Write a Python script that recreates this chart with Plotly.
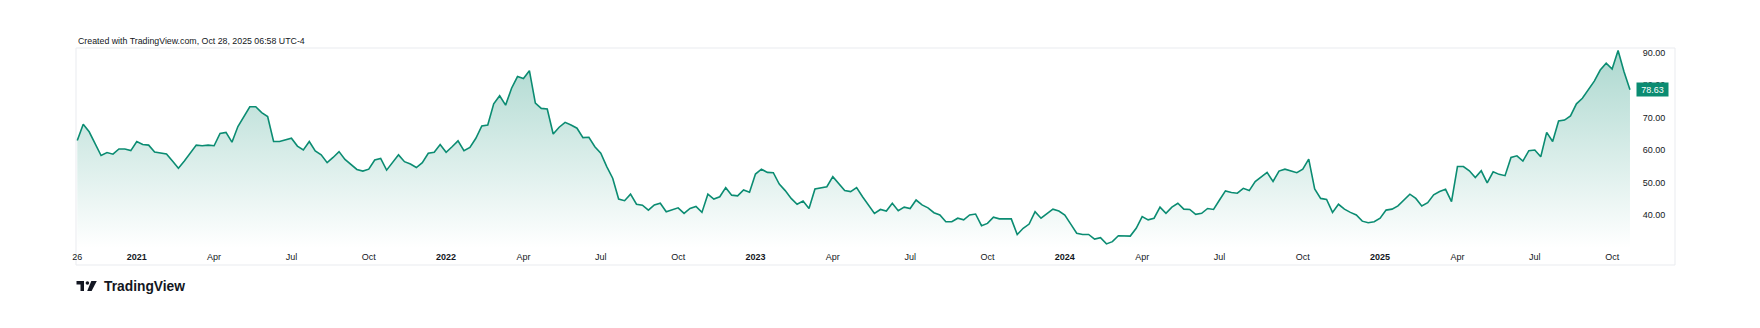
import plotly.graph_objects as go
import pandas as pd

# ---------------- data (weekly closes) ----------------
start_date = "2020-10-26"

values_a = [63.0, 68.0, 65.7, 61.9, 58.4, 59.3, 58.8, 60.4, 60.4, 59.9,
            62.7, 61.8, 61.6, 59.5, 59.3, 58.9, 56.7, 54.5, 56.7, 59.1,
            61.6, 61.4, 61.6, 61.4, 65.2, 65.5, 62.5, 67.3, 70.4, 73.4,
            73.4, 71.6, 70.4, 62.7, 62.7, 63.2, 63.7, 61.3, 60.1, 62.7,
            59.8, 58.6, 56.2, 57.8, 59.6, 57.2, 55.5, 54.1, 53.6, 54.2,
            57.0, 57.5, 53.9, 56.2, 58.6, 56.5, 55.8, 54.7, 56.2, 59.1,
            59.4, 61.8, 59.4, 61.1, 62.9, 59.9, 60.9, 63.7, 67.5, 67.8,
            74.3, 76.8, 73.9, 79.1, 82.7, 82.1, 84.5, 74.5, 72.9, 72.7,
            65.0, 67.1]

values_b = [68.6, 67.8, 66.8, 63.9, 64.0, 61.1, 59.1, 55.0, 51.4, 45.0,
            44.5, 46.5, 43.4, 43.1, 41.6, 43.2, 43.7, 41.1, 41.8, 42.3,
            40.6, 42.1, 42.7, 40.9, 46.5, 45.0, 45.7, 48.5, 46.2, 46.0,
            47.8, 47.1, 52.7, 54.2, 53.2, 53.1, 49.6, 47.6, 45.2, 43.4,
            44.4, 42.1, 48.1, 48.5, 48.8, 51.9, 49.6, 47.6, 47.3, 48.5,
            45.7, 43.2, 40.6, 41.8, 41.3, 43.7, 41.4, 42.5, 42.1, 44.7,
            43.2, 42.3, 40.8, 40.1, 38.0, 38.0, 39.1, 38.6, 40.1, 40.4,
            36.8, 37.5]

values_c = [39.4, 38.9, 38.9, 38.9, 34.1, 36.0, 37.3, 41.1, 39.1, 40.6,
            41.9, 41.3, 40.1, 37.3, 34.5, 34.1, 34.1, 32.7, 33.1, 31.2,
            31.9, 33.7, 33.7, 33.6, 36.0, 39.6, 38.6, 39.1, 42.5, 40.6,
            42.5, 43.7, 41.9, 41.8, 40.3, 40.6, 42.1, 41.8, 44.7, 47.5,
            47.0, 46.8, 48.3, 47.6, 50.4, 51.9, 53.2, 50.4, 53.6, 54.2,
            53.6, 53.1, 54.2, 57.3, 48.1, 45.2]

values_d = [44.9, 40.9, 43.4, 41.9, 40.9, 40.1, 38.2, 37.7, 38.0, 39.1,
            41.6, 41.9, 42.9, 44.7, 46.5, 45.2, 42.9, 43.9, 46.3, 47.3,
            48.0, 44.2, 55.0, 55.0, 53.7, 51.6, 53.7, 50.0, 53.4, 52.6,
            52.2, 57.8, 58.3, 56.7, 59.9, 60.1, 58.0, 65.5, 62.7, 69.0,
            69.3, 70.6, 74.3, 76.0, 78.8, 81.3, 84.7, 86.8, 85.0, 90.7,
            84.2, 78.63]

values = values_a + values_b + values_c + values_d
dates = pd.date_range(start_date, periods=len(values), freq="7D")
last_value = values[-1]

x_tick_dates = ["2020-10-26", "2021-01-04", "2021-04-05", "2021-07-05", "2021-10-04",
                "2022-01-03", "2022-04-04", "2022-07-04", "2022-10-03",
                "2023-01-02", "2023-04-03", "2023-07-03", "2023-10-02",
                "2024-01-01", "2024-04-01", "2024-07-01", "2024-10-07",
                "2025-01-06", "2025-04-07", "2025-07-07", "2025-10-06"]
x_tick_labels = ["26", "<b>2021</b>", "Apr", "Jul", "Oct",
                 "<b>2022</b>", "Apr", "Jul", "Oct",
                 "<b>2023</b>", "Apr", "Jul", "Oct",
                 "<b>2024</b>", "Apr", "Jul", "Oct",
                 "<b>2025</b>", "Apr", "Jul", "Oct"]
y_tick_values = [40, 50, 60, 70, 80, 90]
y_tick_labels = ["40.00", "50.00", "60.00", "70.00", "80.00", "90.00"]

title_text = "Created with TradingView.com, Oct 28, 2025 06:58 UTC-4"
brand_text = "TradingView"

# ---------------- layout geometry ----------------
W, H = 1760, 328
PL, PR, PT, PB = 76, 1632, 48, 248

def px(x):
    return (x - PL) / (PR - PL)

def py(y):
    return (PB - y) / (PB - PT)

LINE = "#0b8c72"
TXT = "#131722"
FONT = "Liberation Sans, Arial, sans-serif"

fig = go.Figure()
fig.add_trace(go.Scatter(
    x=dates, y=values, mode="lines",
    line=dict(color=LINE, width=1.6),
    fill="tozeroy",
    fillgradient=dict(type="vertical", start=30, stop=91,
                      colorscale=[[0, "rgba(11,140,114,0.0)"],
                                  [1, "rgba(11,140,114,0.34)"]]),
    hoverinfo="skip", showlegend=False,
))

fig.update_layout(
    width=W, height=H,
    margin=dict(l=PL, r=W - PR, t=PT, b=H - PB, pad=0),
    paper_bgcolor="white", plot_bgcolor="white",
    font=dict(family=FONT, size=9, color=TXT),
    xaxis=dict(
        type="date",
        range=["2020-10-24 12:00", "2025-10-29 09:00"],
        tickmode="array", tickvals=x_tick_dates, ticktext=x_tick_labels,
        showgrid=False, zeroline=False, showline=False,
        ticks="outside", ticklen=0, tickcolor="rgba(0,0,0,0)",
        tickfont=dict(size=9, color=TXT, family=FONT),
        fixedrange=True,
    ),
    yaxis=dict(
        side="right",
        range=[29.94, 91.48],
        tickmode="array", tickvals=y_tick_values, ticktext=y_tick_labels,
        showgrid=False, zeroline=False, showline=False,
        ticks="outside", ticklen=8, tickcolor="rgba(0,0,0,0)",
        tickfont=dict(size=9, color=TXT, family=FONT),
        fixedrange=True,
    ),
)

shapes = []
# outer frame
shapes.append(dict(type="rect", xref="paper", yref="paper",
                   x0=px(76), x1=px(1675), y0=py(265), y1=py(48),
                   line=dict(color="#e9ebef", width=1), fillcolor="rgba(0,0,0,0)",
                   layer="below"))
# TradingView logo mark
shapes.append(dict(type="rect", xref="paper", yref="paper",
                   x0=px(76.5), x1=px(84), y0=py(284.5), y1=py(281),
                   line=dict(width=0), fillcolor="#131722"))
shapes.append(dict(type="rect", xref="paper", yref="paper",
                   x0=px(80.5), x1=px(84), y0=py(291), y1=py(281),
                   line=dict(width=0), fillcolor="#131722"))
shapes.append(dict(type="circle", xref="paper", yref="paper",
                   x0=px(85.6), x1=px(89.2), y0=py(284.8), y1=py(281.2),
                   line=dict(width=0), fillcolor="#131722"))
shapes.append(dict(type="path", xref="paper", yref="paper",
                   path="M {a},{b} L {c},{b} L {d},{e} L {f},{e} Z".format(
                       a=px(91.3), b=py(281), c=px(96.8), d=px(91.6), e=py(291), f=px(87.2)),
                   line=dict(width=0), fillcolor="#131722"))
fig.update_layout(shapes=shapes)

annotations = [
    dict(text=title_text, xref="paper", yref="paper", x=px(76), y=py(40.7),
         xanchor="left", yanchor="middle", showarrow=False,
         font=dict(size=8.8, color=TXT, family=FONT)),
    dict(text="<b>" + brand_text + "</b>", xref="paper", yref="paper", x=px(101.5), y=py(286),
         xanchor="left", yanchor="middle", showarrow=False,
         font=dict(size=13.8, color=TXT, family=FONT)),
    dict(text="{:.2f}".format(last_value), xref="paper", yref="y", x=px(1636), y=last_value,
         xanchor="left", yanchor="middle", showarrow=False,
         bgcolor=LINE, borderpad=1, width=29, height=11, align="center",
         font=dict(size=9, color="white", family=FONT)),
]
fig.update_layout(annotations=annotations)

fig.write_html("out.html", config={"displayModeBar": False, "staticPlot": True})
